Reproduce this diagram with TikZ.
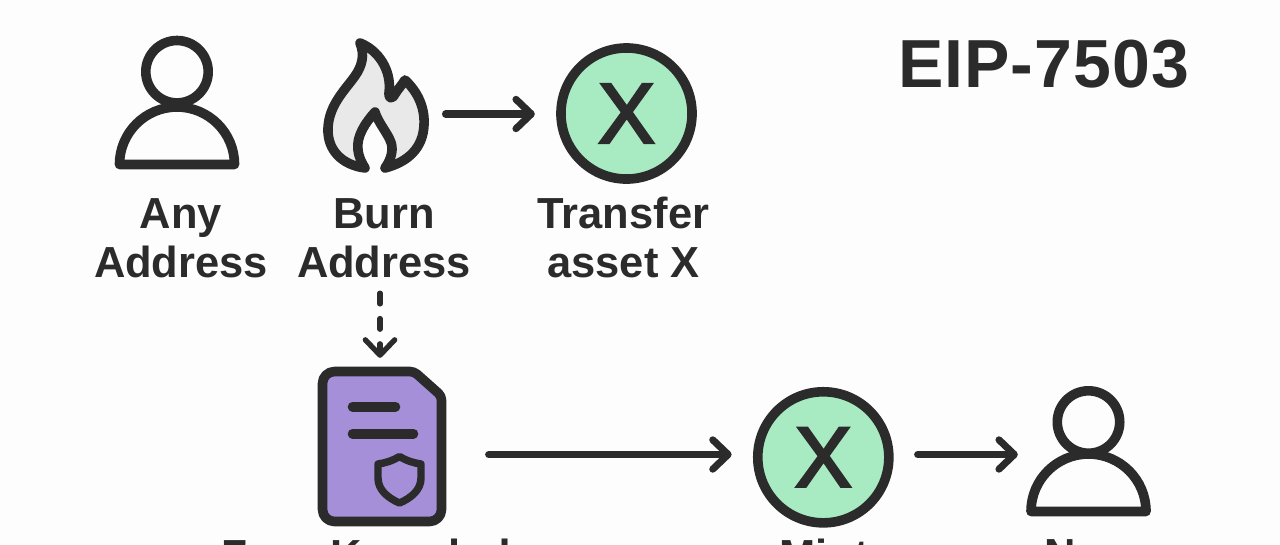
\documentclass[tikz,border=0pt]{standalone}
\usepackage{fontspec}
\setmainfont{Liberation Sans}
\newfontface\coinfont[FakeBold=3]{Liberation Sans}
\usepackage{tikz}
\usetikzlibrary{arrows.meta}
\definecolor{inkline}{HTML}{2B2B2B}
\definecolor{coinfill}{HTML}{A8EBC3}
\definecolor{docfill}{HTML}{A68FD9}
\definecolor{flamefill}{HTML}{E9E9E9}
\definecolor{paperbg}{HTML}{FDFDFD}
\tikzset{
  iconline/.style={draw=inkline,line width=7.2pt,line join=round,line cap=round},
  iconspot/.style={inner sep=0pt,outer sep=0pt},
  coin/.style={circle,draw=inkline,fill=coinfill,line width=7.2pt,minimum size=98.3pt,inner sep=0pt,text=inkline,font=\fontsize{64}{64}\selectfont\coinfont},
  caption/.style={align=center,inner sep=0pt,anchor=north,text=inkline,font=\fontsize{32.6}{36.75}\selectfont\bfseries},
  link/.style={draw=inkline,line width=5.3pt,line cap=round,-{Straight Barb[round,length=11.5pt,width=22pt]}},
  pics/person/.style={code={
    \draw[iconline] (0,-#1) circle (31.2);
    \draw[iconline] (-57.5,0) arc[start angle=180,end angle=360,radius=57.5] -- cycle;
  }}
}
\begin{document}
\begin{tikzpicture}[x=0.75pt,y=-0.75pt]
\useasboundingbox (0,0) rectangle (1280,544);
\clip (0,0) rectangle (1280,544);
\fill[paperbg] (0,0) rectangle (1280,544);
\coordinate (rowa) at (0,114);
\coordinate (rowb) at (0,454.5);
\coordinate (droplink) at (380,0);
% top row
\node[iconspot,minimum width=93pt,minimum height=97pt] (anyaddr) at (177,105) {};
\pic at (177,164.5) {person={92.8}};
\node[iconspot,minimum width=79pt,minimum height=100pt] (burnaddr) at (375.5,105) {};
\draw[iconline,fill=flamefill] (360,43) .. controls (378,50) and (392,70) .. (389,93)
  .. controls (388,98) and (392,100) .. (395,94)
  .. controls (398,89) and (402,85) .. (405,80)
  .. controls (418,92) and (425,108) .. (424,125)
  .. controls (423,148) and (408,162) .. (385,168)
  .. controls (392,158) and (394,148) .. (390,140)
  .. controls (386,131) and (378,122) .. (375,112)
  .. controls (366,122) and (356,136) .. (358,150)
  .. controls (359,158) and (362,163) .. (365,168)
  .. controls (342,165) and (327,150) .. (328,128)
  .. controls (329,105) and (345,90) .. (355,76)
  .. controls (362,66) and (365,55) .. (360,43) -- cycle;
\node[coin] (assetx) at (626.5,113.5) {X};
\node[caption] (anylabel) at (181,198) {Any\\Address};
\node[caption] (burnlabel) at (384,198) {Burn\\Address};
\node[caption] (assetlabel) at (623.5,197) {Transfer\\asset X};
\node[font=\fontsize{51}{60}\selectfont\bfseries\addfontfeature{LetterSpace=1.5},text=inkline,inner sep=0pt] (title) at (1043.5,64.5) {EIP-7503};
% bottom row
\node[iconspot,minimum width=96pt,minimum height=119pt] (zkdoc) at (382,446.5) {};
\draw[iconline,fill=docfill,rounded corners=9pt] (322.5,400) -- (322.5,371.5) [rounded corners=3pt] -- (414,371.5) -- (441.5,396) [rounded corners=9pt] -- (441.5,521.5) -- (322.5,521.5) -- cycle;
\draw[iconline] (352.5,406.7) -- (395.5,406.7);
\draw[iconline] (352.5,433.7) -- (413.5,433.7);
\draw[iconline,line width=5.6pt] (399.5,456.5) .. controls (392,461) and (385,463) .. (378,464)
  -- (378,478) .. controls (378,490) and (388,498) .. (399.5,503)
  .. controls (411,498) and (421,490) .. (421,478) -- (421,464)
  .. controls (414,463) and (407,461) .. (399.5,456.5) -- cycle;
\node[coin] (coinmint) at (823.3,457.3) {X};
\node[iconspot,minimum width=92pt,minimum height=97pt] (newaddr) at (1088.5,451) {};
\pic at (1088.5,511.5) {person={89.5}};
\node[caption] (ziplabel) at (392,539) {Zero-Knowledge};
\node[caption] (mintlabel) at (824,539) {Mint};
\node[caption] (newlabel) at (1089,539) {New};
% links
\path[link,shorten <=13pt,shorten >=16pt] (burnaddr.east |- rowa) -- (assetx.west |- rowa);
\path[link,shorten <=32pt,shorten >=16pt] (zkdoc.east |- rowb) -- (coinmint.west |- rowb);
\path[link,shorten <=18pt,shorten >=7pt] (coinmint.east |- rowb) -- (newaddr.west |- rowb);
\path[link,line width=4pt,dash pattern=on 8pt off 11pt,shorten <=11.5pt,shorten >=7pt] (droplink |- burnlabel.south) -- (droplink |- zkdoc.north);
\end{tikzpicture}
\end{document}
